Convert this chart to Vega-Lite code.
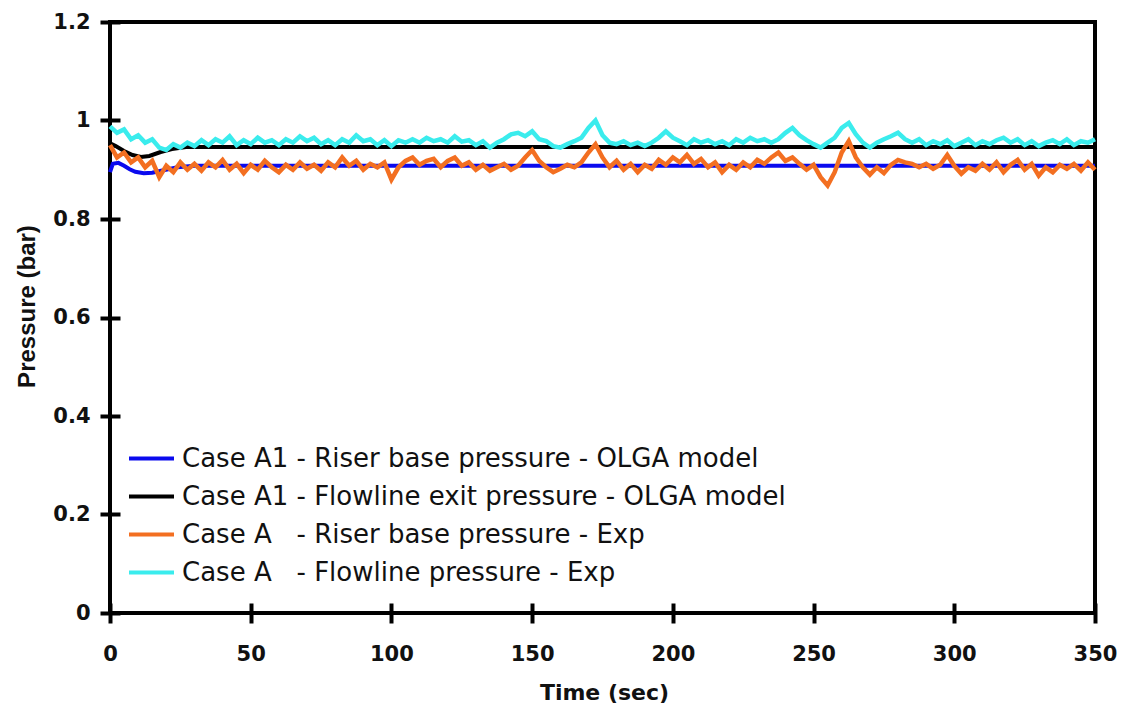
{
  "$schema": "https://vega.github.io/schema/vega-lite/v6.json",
  "width": 985,
  "height": 591,
  "autosize": {"type": "none"},
  "padding": {"left": 110, "top": 22, "right": 29, "bottom": 101},
  "background": "white",
  "config": {
    "view": {"stroke": "black", "strokeWidth": 4},
    "axis": {
      "domain": false,
      "grid": false,
      "offset": -10,
      "tickSize": 20,
      "tickWidth": 4,
      "tickColor": "black",
      "labelFlush": false,
      "labelFont": "DejaVu Sans",
      "labelFontWeight": "bold",
      "labelFontSize": 21,
      "labelColor": "#111111",
      "titleColor": "#111111",
      "titleFontWeight": "bold"
    }
  },
  "encoding": {
    "x": {
      "field": "t",
      "type": "quantitative",
      "scale": {"domain": [0, 350], "nice": false, "zero": false},
      "axis": {
        "values": [0, 50, 100, 150, 200, 250, 300, 350],
        "format": "d",
        "labelPadding": 20,
        "title": "Time (sec)",
        "titleFont": "DejaVu Sans",
        "titleFontSize": 22,
        "titleBaseline": "alphabetic",
        "titleX": 494,
        "titleY": 96
      }
    },
    "y": {
      "field": "p",
      "type": "quantitative",
      "scale": {"domain": [0, 1.2], "nice": false},
      "axis": {
        "values": [0, 0.2, 0.4, 0.6, 0.8, 1, 1.2],
        "format": ".1~f",
        "labelPadding": 10,
        "title": "Pressure (bar)",
        "titleFont": "Liberation Sans",
        "titleFontSize": 24,
        "titleBaseline": "alphabetic",
        "titleX": -86,
        "titleY": 284
      }
    },
    "color": {
      "field": "s",
      "type": "nominal",
      "scale": {
        "domain": ["m_riser", "m_flow", "e_riser", "e_flow"],
        "range": ["#0a0aee", "#000000", "#f36f21", "#3aeced"]
      },
      "legend": {
        "title": null,
        "orient": "none",
        "legendX": 17,
        "legendY": 412,
        "symbolType": "stroke",
        "symbolStrokeWidth": 4,
        "symbolSize": 2025,
        "labelFont": "DejaVu Sans",
        "labelFontSize": 26,
        "labelColor": "#111111",
        "labelOffset": 6,
        "labelLimit": 1000,
        "rowPadding": -2,
        "labelExpr": "datum.value == 'm_riser' ? 'Case A1 - Riser base pressure - OLGA model' : datum.value == 'm_flow' ? 'Case A1 - Flowline exit pressure - OLGA model' : datum.value == 'e_riser' ? 'Case A\u2007 - Riser base pressure - Exp' : 'Case A\u2007 - Flowline pressure - Exp'"
      }
    }
  },
  "layer": [
    {
      "data": {
        "values": [
          {"t": 0, "s": "m_riser", "p": 0.895},
          {"t": 1, "s": "m_riser", "p": 0.912},
          {"t": 3, "s": "m_riser", "p": 0.914},
          {"t": 5, "s": "m_riser", "p": 0.908},
          {"t": 7, "s": "m_riser", "p": 0.901},
          {"t": 9, "s": "m_riser", "p": 0.896},
          {"t": 12, "s": "m_riser", "p": 0.893},
          {"t": 15, "s": "m_riser", "p": 0.894},
          {"t": 19, "s": "m_riser", "p": 0.899},
          {"t": 24, "s": "m_riser", "p": 0.905},
          {"t": 30, "s": "m_riser", "p": 0.908},
          {"t": 350, "s": "m_riser", "p": 0.908},
          {"t": 0, "s": "m_flow", "p": 0.954},
          {"t": 2, "s": "m_flow", "p": 0.948},
          {"t": 5, "s": "m_flow", "p": 0.938},
          {"t": 8, "s": "m_flow", "p": 0.930},
          {"t": 11, "s": "m_flow", "p": 0.926},
          {"t": 14, "s": "m_flow", "p": 0.928},
          {"t": 18, "s": "m_flow", "p": 0.936},
          {"t": 22, "s": "m_flow", "p": 0.942},
          {"t": 27, "s": "m_flow", "p": 0.946},
          {"t": 350, "s": "m_flow", "p": 0.946}
        ]
      },
      "mark": {"type": "line", "strokeWidth": 4}
    },
    {
      "data": {
        "values": [
          {"t": 0, "e_riser": 0.950, "e_flow": 0.988},
          {"t": 2.5, "e_riser": 0.925, "e_flow": 0.975},
          {"t": 5, "e_riser": 0.935, "e_flow": 0.982},
          {"t": 7.5, "e_riser": 0.915, "e_flow": 0.962},
          {"t": 10, "e_riser": 0.925, "e_flow": 0.970},
          {"t": 12.5, "e_riser": 0.905, "e_flow": 0.955},
          {"t": 15, "e_riser": 0.918, "e_flow": 0.962},
          {"t": 17.5, "e_riser": 0.885, "e_flow": 0.945},
          {"t": 20, "e_riser": 0.908, "e_flow": 0.940},
          {"t": 22.5, "e_riser": 0.895, "e_flow": 0.952},
          {"t": 25, "e_riser": 0.915, "e_flow": 0.945},
          {"t": 27.5, "e_riser": 0.900, "e_flow": 0.955},
          {"t": 30, "e_riser": 0.912, "e_flow": 0.948},
          {"t": 32.5, "e_riser": 0.898, "e_flow": 0.960},
          {"t": 35, "e_riser": 0.915, "e_flow": 0.950},
          {"t": 37.5, "e_riser": 0.905, "e_flow": 0.962},
          {"t": 40, "e_riser": 0.920, "e_flow": 0.955},
          {"t": 42.5, "e_riser": 0.900, "e_flow": 0.968},
          {"t": 45, "e_riser": 0.912, "e_flow": 0.950},
          {"t": 47.5, "e_riser": 0.893, "e_flow": 0.960},
          {"t": 50, "e_riser": 0.910, "e_flow": 0.952},
          {"t": 52.5, "e_riser": 0.900, "e_flow": 0.965},
          {"t": 55, "e_riser": 0.918, "e_flow": 0.955},
          {"t": 57.5, "e_riser": 0.905, "e_flow": 0.960},
          {"t": 60, "e_riser": 0.895, "e_flow": 0.950},
          {"t": 62.5, "e_riser": 0.910, "e_flow": 0.962},
          {"t": 65, "e_riser": 0.900, "e_flow": 0.955},
          {"t": 67.5, "e_riser": 0.915, "e_flow": 0.968},
          {"t": 70, "e_riser": 0.902, "e_flow": 0.958},
          {"t": 72.5, "e_riser": 0.910, "e_flow": 0.965},
          {"t": 75, "e_riser": 0.898, "e_flow": 0.952},
          {"t": 77.5, "e_riser": 0.915, "e_flow": 0.960},
          {"t": 80, "e_riser": 0.905, "e_flow": 0.950},
          {"t": 82.5, "e_riser": 0.925, "e_flow": 0.962},
          {"t": 85, "e_riser": 0.908, "e_flow": 0.955},
          {"t": 87.5, "e_riser": 0.918, "e_flow": 0.970},
          {"t": 90, "e_riser": 0.900, "e_flow": 0.958},
          {"t": 92.5, "e_riser": 0.912, "e_flow": 0.962},
          {"t": 95, "e_riser": 0.905, "e_flow": 0.950},
          {"t": 97.5, "e_riser": 0.915, "e_flow": 0.960},
          {"t": 100, "e_riser": 0.880, "e_flow": 0.948},
          {"t": 102.5, "e_riser": 0.905, "e_flow": 0.960},
          {"t": 105, "e_riser": 0.918, "e_flow": 0.955},
          {"t": 107.5, "e_riser": 0.925, "e_flow": 0.962},
          {"t": 110, "e_riser": 0.910, "e_flow": 0.955},
          {"t": 112.5, "e_riser": 0.918, "e_flow": 0.965},
          {"t": 115, "e_riser": 0.922, "e_flow": 0.958},
          {"t": 117.5, "e_riser": 0.905, "e_flow": 0.962},
          {"t": 120, "e_riser": 0.918, "e_flow": 0.955},
          {"t": 122.5, "e_riser": 0.925, "e_flow": 0.968},
          {"t": 125, "e_riser": 0.908, "e_flow": 0.957},
          {"t": 127.5, "e_riser": 0.915, "e_flow": 0.960},
          {"t": 130, "e_riser": 0.900, "e_flow": 0.950},
          {"t": 132.5, "e_riser": 0.910, "e_flow": 0.958},
          {"t": 135, "e_riser": 0.898, "e_flow": 0.945},
          {"t": 137.5, "e_riser": 0.905, "e_flow": 0.955},
          {"t": 140, "e_riser": 0.912, "e_flow": 0.962},
          {"t": 142.5, "e_riser": 0.900, "e_flow": 0.972},
          {"t": 145, "e_riser": 0.908, "e_flow": 0.975},
          {"t": 147.5, "e_riser": 0.925, "e_flow": 0.968},
          {"t": 150, "e_riser": 0.940, "e_flow": 0.978},
          {"t": 152.5, "e_riser": 0.918, "e_flow": 0.962},
          {"t": 155, "e_riser": 0.905, "e_flow": 0.958},
          {"t": 157.5, "e_riser": 0.895, "e_flow": 0.948},
          {"t": 160, "e_riser": 0.902, "e_flow": 0.945},
          {"t": 162.5, "e_riser": 0.910, "e_flow": 0.952},
          {"t": 165, "e_riser": 0.905, "e_flow": 0.958},
          {"t": 167.5, "e_riser": 0.915, "e_flow": 0.965},
          {"t": 170, "e_riser": 0.935, "e_flow": 0.985},
          {"t": 172.5, "e_riser": 0.952, "e_flow": 1.000},
          {"t": 175, "e_riser": 0.925, "e_flow": 0.970},
          {"t": 177.5, "e_riser": 0.905, "e_flow": 0.955},
          {"t": 180, "e_riser": 0.918, "e_flow": 0.952},
          {"t": 182.5, "e_riser": 0.900, "e_flow": 0.958},
          {"t": 185, "e_riser": 0.912, "e_flow": 0.950},
          {"t": 187.5, "e_riser": 0.895, "e_flow": 0.955},
          {"t": 190, "e_riser": 0.910, "e_flow": 0.948},
          {"t": 192.5, "e_riser": 0.902, "e_flow": 0.955},
          {"t": 195, "e_riser": 0.920, "e_flow": 0.965},
          {"t": 197.5, "e_riser": 0.910, "e_flow": 0.978},
          {"t": 200, "e_riser": 0.925, "e_flow": 0.965},
          {"t": 202.5, "e_riser": 0.915, "e_flow": 0.958},
          {"t": 205, "e_riser": 0.930, "e_flow": 0.950},
          {"t": 207.5, "e_riser": 0.912, "e_flow": 0.962},
          {"t": 210, "e_riser": 0.922, "e_flow": 0.955},
          {"t": 212.5, "e_riser": 0.905, "e_flow": 0.960},
          {"t": 215, "e_riser": 0.915, "e_flow": 0.952},
          {"t": 217.5, "e_riser": 0.895, "e_flow": 0.958},
          {"t": 220, "e_riser": 0.910, "e_flow": 0.950},
          {"t": 222.5, "e_riser": 0.900, "e_flow": 0.962},
          {"t": 225, "e_riser": 0.915, "e_flow": 0.955},
          {"t": 227.5, "e_riser": 0.905, "e_flow": 0.965},
          {"t": 230, "e_riser": 0.920, "e_flow": 0.958},
          {"t": 232.5, "e_riser": 0.912, "e_flow": 0.962},
          {"t": 235, "e_riser": 0.925, "e_flow": 0.955},
          {"t": 237.5, "e_riser": 0.935, "e_flow": 0.962},
          {"t": 240, "e_riser": 0.918, "e_flow": 0.975},
          {"t": 242.5, "e_riser": 0.925, "e_flow": 0.985},
          {"t": 245, "e_riser": 0.912, "e_flow": 0.970},
          {"t": 247.5, "e_riser": 0.900, "e_flow": 0.960},
          {"t": 250, "e_riser": 0.910, "e_flow": 0.952},
          {"t": 252.5, "e_riser": 0.885, "e_flow": 0.945},
          {"t": 255, "e_riser": 0.868, "e_flow": 0.955},
          {"t": 257.5, "e_riser": 0.895, "e_flow": 0.965},
          {"t": 260, "e_riser": 0.935, "e_flow": 0.985},
          {"t": 262.5, "e_riser": 0.958, "e_flow": 0.995},
          {"t": 265, "e_riser": 0.925, "e_flow": 0.972},
          {"t": 267.5, "e_riser": 0.905, "e_flow": 0.955},
          {"t": 270, "e_riser": 0.890, "e_flow": 0.945},
          {"t": 272.5, "e_riser": 0.905, "e_flow": 0.955},
          {"t": 275, "e_riser": 0.893, "e_flow": 0.962},
          {"t": 277.5, "e_riser": 0.910, "e_flow": 0.968},
          {"t": 280, "e_riser": 0.920, "e_flow": 0.975},
          {"t": 282.5, "e_riser": 0.915, "e_flow": 0.962},
          {"t": 285, "e_riser": 0.912, "e_flow": 0.955},
          {"t": 287.5, "e_riser": 0.905, "e_flow": 0.962},
          {"t": 290, "e_riser": 0.912, "e_flow": 0.950},
          {"t": 292.5, "e_riser": 0.902, "e_flow": 0.958},
          {"t": 295, "e_riser": 0.910, "e_flow": 0.952},
          {"t": 297.5, "e_riser": 0.930, "e_flow": 0.960},
          {"t": 300, "e_riser": 0.908, "e_flow": 0.948},
          {"t": 302.5, "e_riser": 0.892, "e_flow": 0.955},
          {"t": 305, "e_riser": 0.905, "e_flow": 0.962},
          {"t": 307.5, "e_riser": 0.898, "e_flow": 0.950},
          {"t": 310, "e_riser": 0.912, "e_flow": 0.958},
          {"t": 312.5, "e_riser": 0.900, "e_flow": 0.952},
          {"t": 315, "e_riser": 0.915, "e_flow": 0.960},
          {"t": 317.5, "e_riser": 0.895, "e_flow": 0.965},
          {"t": 320, "e_riser": 0.910, "e_flow": 0.955},
          {"t": 322.5, "e_riser": 0.920, "e_flow": 0.962},
          {"t": 325, "e_riser": 0.900, "e_flow": 0.950},
          {"t": 327.5, "e_riser": 0.912, "e_flow": 0.958},
          {"t": 330, "e_riser": 0.888, "e_flow": 0.948},
          {"t": 332.5, "e_riser": 0.905, "e_flow": 0.955},
          {"t": 335, "e_riser": 0.895, "e_flow": 0.960},
          {"t": 337.5, "e_riser": 0.910, "e_flow": 0.952},
          {"t": 340, "e_riser": 0.902, "e_flow": 0.962},
          {"t": 342.5, "e_riser": 0.912, "e_flow": 0.950},
          {"t": 345, "e_riser": 0.898, "e_flow": 0.958},
          {"t": 347.5, "e_riser": 0.915, "e_flow": 0.955},
          {"t": 350, "e_riser": 0.900, "e_flow": 0.962}
        ]
      },
      "transform": [{"fold": ["e_riser", "e_flow"], "as": ["s", "p"]}],
      "mark": {"type": "line", "strokeWidth": 4.5}
    }
  ]
}
